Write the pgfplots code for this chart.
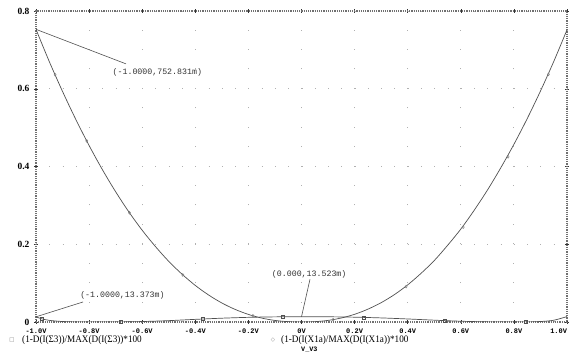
\documentclass[border=0pt]{standalone}
\usepackage{pgfplots}
\pgfplotsset{compat=1.18}
\usepackage{fontspec}
\setmainfont{Liberation Serif}
\newfontfamily\monof{Liberation Mono}
\newfontfamily\symf{DejaVu Sans}
\definecolor{curve}{HTML}{505050}
\definecolor{gridc}{HTML}{B0B0B0}
\definecolor{framec}{HTML}{707070}
\begin{document}
\begin{tikzpicture}
\useasboundingbox (0bp,0bp) rectangle (571bp,363bp);
\begin{axis}[
  at={(36bp,41bp)}, anchor=south west,
  scale only axis, width=531bp, height=311bp,
  xmin=-1, xmax=1, ymin=0, ymax=0.8,
  axis line style={draw=framec, line width=1.1bp, dash pattern=on 1.2bp off 1bp},
  xtick={-1,-0.8,-0.6,-0.4,-0.2,0,0.2,0.4,0.6,0.8,1},
  xticklabels={-1.0V,-0.8V,-0.6V,-0.4V,-0.2V,0V,0.2V,0.4V,0.6V,0.8V,\llap{1.0V}},
  ytick={0,0.2,0.4,0.6,0.8},
  yticklabels={0,0.2,0.4,0.6,0.8},
  xticklabel style={font=\monof\bfseries\fontsize{7}{7}\selectfont, yshift=-1bp},
  yticklabel style={font=\bfseries\fontsize{9.5}{10}\selectfont, xshift=-1bp},
  tick align=center, major tick length=4bp,
  tick style={draw=black!80, line width=0.5bp},
  grid=major,
  major x grid style={draw=gridc, line width=1bp, dash pattern=on 1bp off 18.43bp},
  major y grid style={draw=gridc, line width=1bp, dash pattern=on 1bp off 12.275bp},
]
% zero line
\addplot[black!75, line width=0.6bp, dash pattern=on 2bp off 2bp] coordinates {(-1,0) (1,0)};
% (1-D(I(X1a))... parabola-like curve
\addplot[curve, line width=0.7bp, smooth] coordinates {
(-1.00,0.7528) (-0.95,0.670) (-0.90,0.593) (-0.85,0.521) (-0.80,0.454)
(-0.75,0.392) (-0.70,0.335) (-0.65,0.283) (-0.60,0.236) (-0.55,0.194)
(-0.50,0.156) (-0.45,0.123) (-0.40,0.094) (-0.35,0.0695) (-0.30,0.0489)
(-0.25,0.0324) (-0.20,0.0195) (-0.15,0.0101) (-0.10,0.0040) (-0.05,0.0008)
(0.00,0.0000) (0.05,0.0008) (0.10,0.0041) (0.15,0.0103) (0.20,0.0198)
(0.25,0.0330) (0.30,0.0497) (0.35,0.0705) (0.40,0.0955) (0.45,0.125)
(0.50,0.158) (0.55,0.197) (0.60,0.239) (0.65,0.287) (0.70,0.339)
(0.75,0.396) (0.80,0.457) (0.85,0.523) (0.90,0.594) (0.95,0.670) (1.00,0.7516)
};
\addplot[only marks, mark=diamond, mark size=1.4bp, draw=gray, mark options={fill=white, line width=0.5bp}] coordinates {
(-0.928,0.636) (-0.809,0.466) (-0.648,0.281) (-0.447,0.121) (-0.183,0.016)
(0.119,0.006) (0.394,0.091) (0.609,0.244) (0.778,0.425) (0.93,0.637)
};
% (1-D(I(Sigma3))... flat curve
\addplot[curve, line width=0.7bp, smooth] coordinates {
(-1.00,0.0134) (-0.98,0.0085) (-0.95,0.0042) (-0.90,0.0012) (-0.85,0.0002)
(-0.80,0.0000) (-0.70,0.0001) (-0.60,0.0012) (-0.50,0.0035) (-0.40,0.0068)
(-0.30,0.0098) (-0.20,0.0120) (-0.10,0.0132) (0.00,0.0135) (0.10,0.0134)
(0.20,0.0124) (0.30,0.0105) (0.40,0.0078) (0.50,0.0047) (0.60,0.0020)
(0.70,0.0004) (0.80,0.0000) (0.85,0.0001) (0.90,0.0012) (0.95,0.0045) (1.00,0.0140)
};
\addplot[only marks, mark=square, mark size=1.5bp, draw=curve, mark options={fill=white, line width=0.5bp}] coordinates {
(-0.979,0.0082) (-0.681,0.0002) (-0.372,0.0077) (-0.069,0.0134) (0.235,0.0118) (0.54,0.0036) (0.846,0.0001)
};
% cursor annotations
\draw[curve, line width=0.6bp] (axis cs:-1,0.752831) -- (axis cs:-0.661,0.664);
\node[anchor=west, inner sep=0pt, text=black!80, font=\monof\fontsize{8.3}{9}\selectfont] at (axis cs:-0.712,0.643) {(-1.0000,752.831m)};
\draw[curve, line width=0.6bp] (axis cs:-1,0.013373) -- (axis cs:-0.823,0.0515);
\node[anchor=west, inner sep=0pt, text=black!80, font=\monof\fontsize{8.3}{9}\selectfont] at (axis cs:-0.834,0.0695) {(-1.0000,13.373m)};
\draw[curve, line width=0.6bp] (axis cs:0,0.013523) -- (axis cs:0.032,0.110);
\node[anchor=west, inner sep=0pt, text=black!80, font=\monof\fontsize{8.3}{9}\selectfont] at (axis cs:-0.112,0.1235) {(0.000,13.523m)};
\end{axis}
% legend and x label
\node[anchor=center, inner sep=0pt, text=gray, font=\symf\fontsize{5.5}{5.5}\selectfont] at (12bp,22.5bp) {□};
\node[anchor=west, inner sep=0pt, font=\fontsize{10}{11}\selectfont] at (22bp,22.5bp) {\scalebox{0.92}[1]{(1-D(I(Σ3))/MAX(D(I(Σ3))*100}};
\node[anchor=center, inner sep=0pt, text=gray, font=\symf\fontsize{5.5}{5.5}\selectfont] at (273bp,22.5bp) {◇};
\node[anchor=west, inner sep=0pt, font=\fontsize{10}{11}\selectfont] at (281bp,22.5bp) {\scalebox{0.92}[1]{(1-D(I(X1a)/MAX(D(I(X1a))*100}};
\node[anchor=west, inner sep=0pt, font=\monof\bfseries\fontsize{6.8}{7}\selectfont] at (301bp,13bp) {V\_V3};
\end{tikzpicture}
\end{document}
